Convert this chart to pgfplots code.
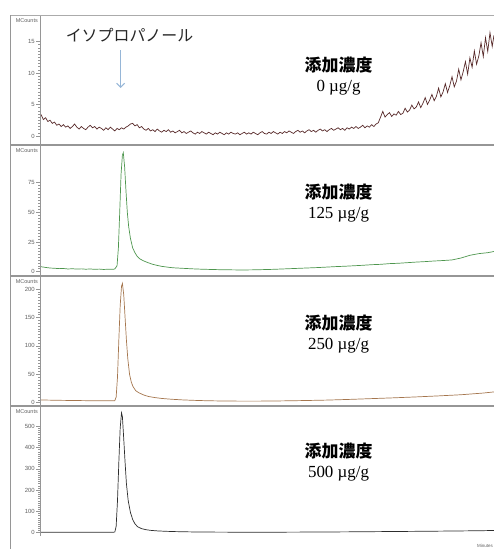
\documentclass[border=0pt]{standalone}
\usepackage{fontspec}
\setmainfont{Liberation Serif}
\setsansfont{Liberation Sans}
\newfontfamily\cjk{Noto Sans CJK JP}
\usepackage{pgfplots}
\usepackage{pgfplotstable}
\pgfplotsset{compat=1.18}
\usetikzlibrary{arrows.meta}
\definecolor{trA}{RGB}{88,42,42}
\definecolor{trB}{RGB}{78,150,78}
\definecolor{trC}{RGB}{165,118,78}
\definecolor{trD}{RGB}{45,45,45}
\definecolor{frm}{RGB}{150,150,150}
\definecolor{arr}{RGB}{150,182,215}
\definecolor{tcol}{RGB}{95,95,95}

\pgfplotstableread{
t v
4.60 3.4
4.65 2.6
4.70 2.9
4.75 2.3
4.80 2.5
4.85 2.0
4.90 2.2
4.95 1.7
5.00 1.9
5.05 1.5
5.10 1.8
5.15 1.4
5.20 1.6
5.25 1.2
5.30 1.5
5.35 1.9
5.40 1.4
5.45 1.1
5.50 1.5
5.55 1.2
5.60 1.0
5.65 1.4
5.70 1.7
5.75 1.3
5.80 1.5
5.85 1.1
5.90 1.4
5.95 1.2
6.00 0.9
6.05 1.3
6.10 1.0
6.15 1.4
6.20 1.1
6.25 0.8
6.30 1.2
6.35 1.0
6.40 1.3
6.45 1.1
6.50 1.4
6.55 1.6
6.60 1.9
6.65 2.0
6.70 1.6
6.75 1.8
6.80 1.3
6.85 1.5
6.90 1.1
6.95 0.9
7.00 1.2
7.05 0.8
7.10 1.0
7.15 0.7
7.20 1.1
7.25 0.8
7.30 0.6
7.35 0.9
7.40 0.7
7.45 1.0
7.50 0.6
7.55 0.8
7.60 0.5
7.65 0.7
7.70 0.9
7.75 0.5
7.80 0.7
7.85 0.4
7.90 0.6
7.95 0.8
8.00 0.5
8.05 0.3
8.10 0.6
8.15 0.4
8.20 0.7
8.25 0.5
8.30 0.3
8.35 0.6
8.40 0.4
8.45 0.2
8.50 0.5
8.55 0.3
8.60 0.6
8.65 0.4
8.70 0.2
8.75 0.5
8.80 0.3
8.85 0.6
8.90 0.4
8.95 0.3
9.00 0.5
9.05 0.2
9.10 0.4
9.15 0.6
9.20 0.3
9.25 0.5
9.30 0.3
9.35 0.6
9.40 0.4
9.45 0.2
9.50 0.5
9.55 0.7
9.60 0.4
9.65 0.3
9.70 0.6
9.75 0.4
9.80 0.7
9.85 0.5
9.90 0.3
9.95 0.6
10.00 0.4
10.05 0.7
10.10 0.5
10.15 0.8
10.20 0.6
10.25 0.4
10.30 0.7
10.35 0.9
10.40 0.6
10.45 0.8
10.50 0.5
10.55 0.8
10.60 1.0
10.65 0.7
10.70 0.9
10.75 0.6
10.80 0.9
10.85 1.1
10.90 0.8
10.95 1.0
11.00 0.7
11.05 1.0
11.10 1.2
11.15 0.9
11.20 1.1
11.25 1.3
11.30 1.0
11.35 1.2
11.40 0.9
11.45 1.3
11.50 1.1
11.55 1.4
11.60 1.2
11.65 1.5
11.70 1.2
11.75 1.4
11.80 1.7
11.85 1.3
11.90 1.6
11.95 1.4
12.00 1.8
12.05 1.5
12.10 1.9
12.15 2.1
12.20 3.0
12.25 3.9
12.30 3.0
12.35 3.4
12.40 3.7
12.45 3.1
12.50 3.5
12.55 3.3
12.60 3.9
12.65 3.4
12.70 3.6
12.75 4.4
12.80 3.8
12.85 4.1
12.90 4.9
12.95 4.3
13.00 4.6
13.05 5.4
13.10 4.5
13.15 5.2
13.20 6.1
13.25 5.0
13.30 5.7
13.35 6.6
13.40 5.6
13.45 6.3
13.50 7.6
13.55 6.2
13.60 7.0
13.65 8.3
13.70 6.9
13.75 8.0
13.80 9.4
13.85 7.8
13.90 8.7
13.95 10.6
14.00 8.9
14.05 10.2
14.10 11.8
14.15 9.8
14.20 12.4
14.25 10.9
14.30 13.5
14.35 11.4
14.40 12.7
14.45 14.8
14.50 12.6
14.55 15.6
14.60 13.4
14.65 16.4
14.70 14.2
14.74 16.0
}\dataA

\pgfplotstableread{
t v
4.60 4.2
4.70 3.6
4.80 3.1
4.90 2.9
5.00 2.6
5.10 2.7
5.20 2.3
5.30 2.5
5.40 2.2
5.50 2.4
5.60 2.1
5.70 2.3
5.80 2.0
5.90 2.2
6.00 1.9
6.10 2.1
6.20 2.0
6.25 2.3
6.30 5
6.33 20
6.36 50
6.39 82
6.42 98
6.44 100
6.47 88
6.50 68
6.53 50
6.56 38
6.60 28
6.65 20
6.70 16
6.75 13
6.80 11
6.90 9
7.00 7.5
7.10 6.2
7.20 5.3
7.30 4.5
7.40 4.0
7.50 3.5
7.60 3.2
7.80 2.8
8.00 2.4
8.20 2.1
8.40 1.9
8.60 1.7
8.80 1.6
9.00 1.5
9.20 1.5
9.40 1.6
9.60 1.8
9.80 2.0
10.00 2.3
10.20 2.6
10.40 2.9
10.60 3.2
10.80 3.5
11.00 3.9
11.20 4.3
11.40 4.6
11.60 5.0
11.80 5.4
12.00 5.9
12.20 6.2
12.40 6.8
12.60 7.1
12.80 7.6
13.00 8.1
13.20 8.5
13.40 9.0
13.60 9.4
13.80 9.9
14.00 11.5
14.20 13.8
14.40 15.2
14.60 16.0
14.74 17.0
}\dataB

\pgfplotstableread{
t v
4.60 4.8
4.80 4.5
5.00 4.2
5.20 4.0
5.40 3.8
5.60 3.6
5.80 3.5
6.00 3.4
6.20 3.4
6.25 3.6
6.28 10
6.31 45
6.34 110
6.37 170
6.40 205
6.42 210
6.45 190
6.48 150
6.51 110
6.54 78
6.58 50
6.62 36
6.66 28
6.72 21
6.80 17
6.90 13.5
7.00 11
7.15 9
7.30 7.5
7.50 6.2
7.75 5.0
8.00 4.2
8.25 3.6
8.50 3.2
9.00 2.8
9.50 2.8
10.00 3.2
10.50 3.8
11.00 4.6
11.50 5.8
12.00 7.2
12.50 8.6
13.00 10.2
13.50 12.0
14.00 14.0
14.50 17.0
14.74 19.0
}\dataC

\pgfplotstableread{
t v
4.60 2.5
5.00 2.2
5.50 2.0
6.00 1.9
6.20 2.0
6.25 3
6.28 30
6.31 150
6.34 330
6.37 490
6.40 563
6.42 545
6.45 440
6.48 330
6.51 230
6.55 150
6.60 95
6.65 62
6.70 42
6.76 28
6.85 19
6.95 14
7.05 11
7.20 8.5
7.40 6.5
7.60 5.2
7.80 4.3
8.00 3.6
8.50 2.8
9.00 2.4
9.50 2.3
10.00 2.5
10.50 2.9
11.00 3.4
11.50 4.0
12.00 4.8
12.50 5.6
13.00 6.4
13.50 7.3
14.00 8.3
14.50 9.5
14.74 10.5
}\dataD

\pgfplotsset{
  panel/.style={
    scale only axis, width=454bp, height=130bp,
    xmin=4.575, xmax=14.74,
    anchor=south west,
    axis x line=none, axis y line*=left,
    y axis line style={draw=frm, line width=0.8bp},
    tick style={draw=frm, line width=0.5bp},
    tick align=outside,
    major tick length=4bp, minor tick length=2bp,
    minor y tick num=9,
    yticklabel style={font=\sffamily\fontsize{6}{7}\selectfont, text=tcol, inner sep=1bp},
    /pgf/number format/assume math mode=true,
    clip mode=individual,
  },
}
\tikzset{
  conc/.style={font=\fontsize{17}{20}\selectfont, align=center, text=black},
  mc/.style={font=\sffamily\fontsize{5.5}{6}\selectfont, text=tcol, anchor=north east, inner sep=0pt, xshift=-2bp, yshift=-3bp},
}

\begin{document}
\begin{tikzpicture}
\useasboundingbox (0,0) rectangle (494bp,549bp);

% panel 1: 0 ug/g
\begin{axis}[panel, at={(40bp,404bp)}, ymin=-1.43, ymax=19.2, ytick={0,5,10,15}]
\addplot[trA, line width=0.7bp] table[x=t,y=v] {\dataA};
\node[mc] at (rel axis cs:0,1) {MCounts};
\node[font=\cjk\fontsize{16}{18}\selectfont, text=black!85] at (axis cs:6.58,16.0) {イソプロパノール};
\draw[arr, line width=1.1bp, -{Straight Barb[length=4bp,width=8bp]}] (axis cs:6.38,13.6) -- (axis cs:6.38,7.6);
\node[conc] at (axis cs:11.26,9.5) {{\cjk\bfseries 添加濃度}\\0 µg/g};
\end{axis}

% panel 2: 125 ug/g
\begin{axis}[panel, at={(40bp,273bp)}, height=131bp, ymin=-3.6, ymax=106.5, ytick={0,25,50,75}]
\addplot[trB, line width=0.7bp] table[x=t,y=v] {\dataB};
\node[mc] at (rel axis cs:0,1) {MCounts};
\node[conc] at (axis cs:11.26,57.7) {{\cjk\bfseries 添加濃度}\\125 µg/g};
\end{axis}

% panel 3: 250 ug/g
\begin{axis}[panel, at={(40bp,143bp)}, ymin=-5.8, ymax=223, ytick={0,50,100,150,200}]
\addplot[trC, line width=0.7bp] table[x=t,y=v] {\dataC};
\node[mc] at (rel axis cs:0,1) {MCounts};
\node[conc] at (axis cs:11.26,121) {{\cjk\bfseries 添加濃度}\\250 µg/g};
\end{axis}

% panel 4: 500 ug/g
\begin{axis}[panel, at={(40bp,13bp)}, ymin=-15.5, ymax=595, ytick={0,100,200,300,400,500},
  axis x line*=bottom,
  x axis line style={draw=frm, line width=0.8bp},
  xtick={5,7.5,10,12.5}, minor x tick num=9,
  xticklabel style={font=\sffamily\fontsize{6}{7}\selectfont, text=tcol, inner sep=1bp},
  xticklabel={\pgfmathprintnumber[fixed,fixed zerofill,precision=1]{\tick}}]
\addplot[trD, line width=0.7bp] table[x=t,y=v] {\dataD};
\node[mc] at (rel axis cs:0,1) {MCounts};
\node[conc] at (axis cs:11.26,330) {{\cjk\bfseries 添加濃度}\\500 µg/g};
\end{axis}

% frame and panel separators
\draw[frm!80, line width=0.8bp] (10bp,534bp) -- (494bp,534bp);
\draw[frm, line width=0.9bp] (10bp,0bp) -- (10bp,534bp);
\foreach \yy in {404,273,143} {
  \draw[frm, line width=1.6bp] (10bp,\yy bp) -- (494bp,\yy bp);
}
\node[font=\sffamily\fontsize{4.5}{5}\selectfont, text=tcol, anchor=south east, inner sep=0pt] at (493bp,1bp) {Minutes};
\end{tikzpicture}
\end{document}
